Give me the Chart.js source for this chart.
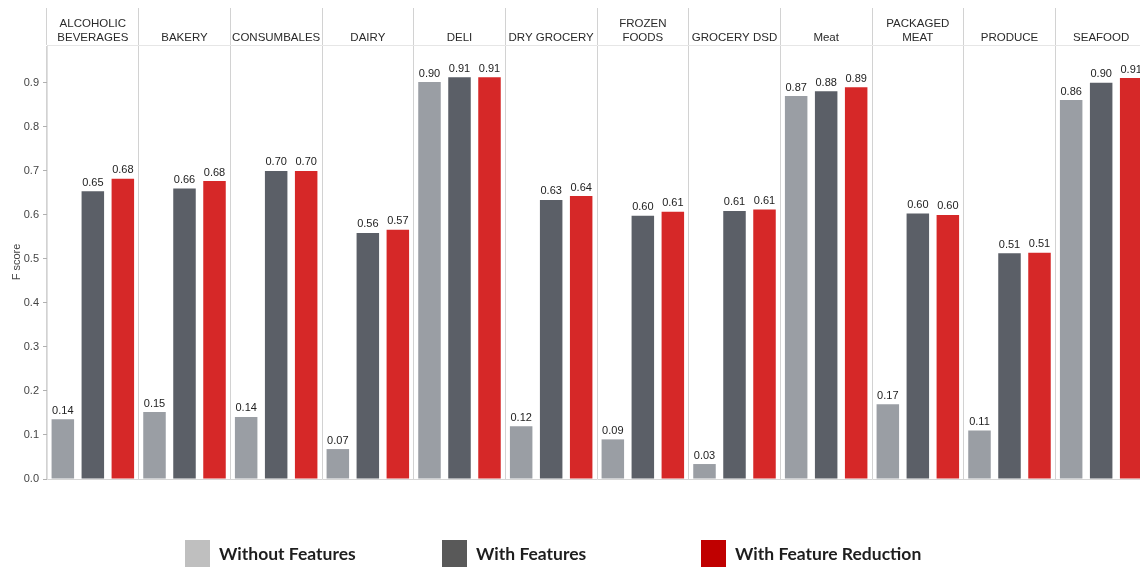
<!DOCTYPE html>
<html>
<head>
<meta charset="utf-8">
<script src="https://cdn.jsdelivr.net/npm/chart.js@4.4.1/dist/chart.umd.min.js"></script>
<style>
  html, body { margin: 0; padding: 0; background: #fff; overflow: hidden; }
  #wrap { position: relative; width: 1140px; height: 567px; overflow: hidden; }
  #chart { position: absolute; left: 0; top: 0; }
  .lg { position: absolute; top: 540px; height: 27px; display: flex; align-items: center;
        font-family: Lato, "Open Sans", sans-serif; font-weight: bold; font-size: 17.5px; color: #1e1e1e; }
  .lg span.box { display: inline-block; width: 25px; height: 27px; margin-right: 9px; }
</style>
</head>
<body>
<div id="wrap">
  <canvas id="chart" width="1150" height="567"></canvas>
  <div id="legend"></div>
</div>
<script>
// categories (header of each panel)
var categories = [
  ["ALCOHOLIC", "BEVERAGES"], "BAKERY", "CONSUMBALES", "DAIRY", "DELI", "DRY GROCERY",
  ["FROZEN", "FOODS"], "GROCERY DSD", "Meat", ["PACKAGED", "MEAT"], "PRODUCE", "SEAFOOD"
];

// F score per category
var withoutFeatures = [0.136, 0.152, 0.141, 0.068, 0.902, 0.120, 0.090, 0.034, 0.870, 0.170, 0.110, 0.861];
var withFeatures    = [0.654, 0.660, 0.700, 0.559, 0.913, 0.634, 0.598, 0.609, 0.881, 0.603, 0.513, 0.900];
var withReduction   = [0.682, 0.677, 0.700, 0.566, 0.913, 0.643, 0.607, 0.612, 0.890, 0.600, 0.514, 0.911];

var seriesNames = ["Without Features", "With Features", "With Feature Reduction"];
var yTicks = [0, 0.1, 0.2, 0.3, 0.4, 0.5, 0.6, 0.7, 0.8, 0.9];

var barColors = ["#9a9ea4", "#5b5f67", "#d62828"];
var legendColors = ["#bfbfbf", "#595959", "#c00000"];
var legendLeft = [185, 442, 701];

// values above every bar
const valueLabels = {
  id: 'valueLabels',
  afterDatasetsDraw: (chart) => {
    const { ctx } = chart;
    ctx.save();
    ctx.font = '11px "Liberation Sans", Arial, sans-serif';
    ctx.fillStyle = '#222';
    ctx.textAlign = 'center';
    ctx.textBaseline = 'bottom';
    chart.data.datasets.forEach((ds, i) => {
      chart.getDatasetMeta(i).data.forEach((bar, j) => {
        ctx.fillText(ds.data[j].toFixed(2), bar.x, bar.y - 3);
      });
    });
    ctx.restore();
  }
};

var sets = [withoutFeatures, withFeatures, withReduction].map((vals, i) => ({
  label: seriesNames[i],
  data: vals,
  backgroundColor: barColors[i],
  categoryPercentage: 0.982,
  barPercentage: 0.75
}));

new Chart(document.getElementById("chart"), {
  type: "bar",
  data: { labels: categories, datasets: sets },
  options: {
    responsive: false,
    animation: false,
    layout: { padding: { top: 8, left: 0, right: 3, bottom: 88 } },
    plugins: {
      legend: { display: false },
      tooltip: { enabled: false }
    },
    scales: {
      x: {
        position: "top",
        afterFit: (scale) => { scale.height = 37; },
        border: { display: true, color: "#e6e6e6" },
        grid: { offset: true, color: "#d2d2d2", tickLength: 37, drawTicks: true },
        ticks: {
          autoSkip: false, maxRotation: 0, minRotation: 0,
          padding: -37,
          color: "#2a2a2a",
          font: { family: '"Liberation Sans", Arial, sans-serif', size: 11.5, lineHeight: 1.22 }
        }
      },
      y: {
        min: 0,
        max: 0.986,
        afterFit: (scale) => { scale.width = 47; },
        afterBuildTicks: (scale) => { scale.ticks = yTicks.map(v => ({ value: v })); },
        border: { display: true, color: "#e0e0e0" },
        grid: {
          color: (c) => (c.tick && c.tick.value === 0 ? "#d6d6d6" : "transparent"),
          tickColor: "#b0b0b0",
          tickLength: 4
        },
        ticks: {
          padding: 4,
          color: "#444",
          font: { family: '"Liberation Sans", Arial, sans-serif', size: 11 },
          callback: (v) => Number(v).toFixed(1)
        },
        title: {
          display: true,
          text: "F score",
          color: "#444",
          padding: { top: 10, bottom: 0 },
          font: { family: '"Liberation Sans", Arial, sans-serif', size: 11 }
        }
      }
    }
  },
  plugins: [valueLabels]
});

// legend under the chart
var legend = document.getElementById("legend");
seriesNames.forEach((name, i) => {
  var item = document.createElement("div");
  item.className = "lg";
  item.style.left = legendLeft[i] + "px";
  item.innerHTML = '<span class="box" style="background:' + legendColors[i] + '"></span>' + name;
  legend.appendChild(item);
});
</script>
</body>
</html>
